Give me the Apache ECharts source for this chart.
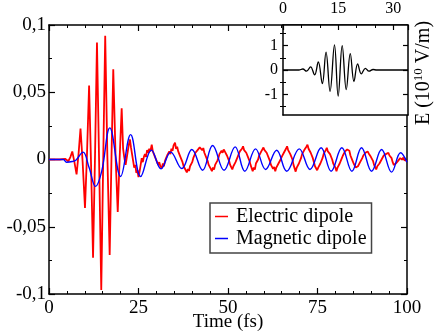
<!DOCTYPE html>
<html>
<head>
<meta charset="utf-8">
<script src="https://cdn.jsdelivr.net/npm/echarts@6/dist/echarts.min.js"></script>
<style>
  html, body { margin: 0; padding: 0; background: #fff; }
  #chart { width: 438px; height: 332px; }
</style>
</head>
<body>
<div id="chart"></div>
<script>
// main plot: time (fs), dipole signal
const xTicks = [0, 25, 50, 75, 100];
const yTicks = [-0.1, -0.05, 0, 0.05, 0.1];
const seriesNames = ["Electric dipole", "Magnetic dipole"];

const electric = [
  [0,0],[3,0],[4.5,0.0005],[5.4,-0.0013],[6.0,0.002],[6.5,0.006],[7.1,-0.002],[7.7,-0.011],
  [8.25,0.004],[8.8,0.023],[9.4,-0.002],[10.05,-0.036],[10.6,0.003],[11.2,0.055],[11.75,-0.004],
  [12.3,-0.073],[12.85,0.002],[13.4,0.087],[14.0,-0.002],[14.6,-0.097],[15.15,0.001],[15.7,0.092],
  [16.3,0.003],[16.95,-0.071],[17.45,0.001],[17.95,0.067],[18.6,0.002],[19.2,-0.039],[19.75,0.002],
  [20.3,0.038],[20.7,0.008],
  [21.0,0.002],[21.4,-0.004],[21.7,0.001],[22.0,0.006],[22.3,0.011],[22.6,0.015],[22.9,0.009],[23.2,0.004],[23.5,-0.001],
  [23.8,-0.006],[24.1,-0.004],[24.4,-0.01],[24.7,-0.008],[25.0,-0.013],[25.3,-0.009],[25.6,-0.004],[25.9,0.001],[26.2,-0.002],[26.5,0.002],
  [26.8,0.004],[27.1,0.002],[27.4,0.007],[27.7,0.005],[28.0,0.008],[28.3,0.006],[28.7,0.011],[29.0,0.006],[29.3,0.007],[29.6,0.002],[29.9,0.003],[30.2,-0.002],
  [30.5,-0.004],[30.8,-0.002],[31.1,-0.005],[31.5,-0.0065],[31.8,-0.003],[32.1,-0.005],[32.4,-0.001],[32.7,0.001],
  [33.0,0.003],[33.3,0.002],[33.6,0.006],[33.9,0.004],[34.2,0.008],[34.5,0.0065],[34.8,0.0105],[35.2,0.0125],[35.5,0.008],[35.8,0.0095],[36.1,0.006],[36.4,0.007],[36.7,0.002],[37.0,0.003],
  [37.3,-0.002],[37.6,-0.005],[37.9,-0.004],[38.2,-0.008],[38.5,-0.0096],[38.8,-0.007],[39.1,-0.0085],[39.4,-0.005],[39.7,-0.006],[40.0,-0.002],
  [40.3,0.001],[40.6,0.0005],[40.9,0.005],[41.2,0.004],[41.5,0.007],[41.8,0.006],[42.1,0.009],[42.5,0.010],[42.8,0.007],[43.1,0.0085],[43.4,0.005],[43.7,0.006],[44.0,0.001],
  [44.3,-0.001],[44.6,-0.004],[44.9,-0.003],[45.2,-0.007],[45.5,-0.0087],[45.8,-0.006],[46.1,-0.0075],[46.4,-0.004],[46.7,-0.005],[47.0,-0.001],
  [47.3,0.001],[47.6,0.004],[47.9,0.003],[48.2,0.0065],[48.5,0.005],[48.8,0.0075],[49.1,0.006],[49.4,0.0065],[49.7,0.003],[50.0,0.0035],[50.3,-0.001],
  [50.6,-0.004],[50.9,-0.003],[51.2,-0.0074],[51.5,-0.005],[51.8,-0.006],[52.1,-0.002],[52.4,-0.0025],
  [52.7,0.002],[53.0,0.001],[53.3,0.006],[53.6,0.005],[53.9,0.008],[54.2,0.0098],[54.5,0.007],[54.8,0.008],[55.1,0.005],[55.4,0.0055],[55.7,0.001],
  [56.0,-0.001],[56.3,-0.004],[56.6,-0.0035],[56.9,-0.0087],[57.2,-0.006],[57.5,-0.0075],[57.8,-0.003],[58.1,-0.004],[58.4,0.0],
  [58.7,0.003],[59.0,0.002],[59.3,0.006],[59.6,0.005],[59.9,0.0089],[60.2,0.007],[60.5,0.008],[60.8,0.005],[61.1,0.006],[61.4,0.001],
  [61.7,-0.001],[62.0,-0.004],[62.3,-0.003],[62.6,-0.007],[62.9,-0.0055],[63.2,-0.0087],[63.5,-0.006],[63.8,-0.007],[64.1,-0.003],[64.4,-0.004],[64.7,0.0],
  [65.0,0.002],[65.3,0.001],[65.6,0.005],[65.9,0.004],[66.2,0.008],[66.5,0.0098],[66.8,0.007],[67.1,0.008],[67.4,0.004],[67.7,0.0045],[68.0,0.0],
  [68.3,-0.004],[68.6,-0.003],[68.9,-0.009],[69.2,-0.006],[69.5,-0.007],[69.8,-0.003],[70.1,-0.0035],[70.4,0.001],
  [70.7,0.004],[71.0,0.003],[71.3,0.007],[71.6,0.006],[71.9,0.0095],[72.2,0.011],[72.5,0.008],[72.8,0.009],[73.1,0.005],[73.4,0.0055],[73.7,0.001],
  [74.0,-0.002],[74.3,-0.005],[74.6,-0.0045],[74.9,-0.008],[75.2,-0.006],[75.5,-0.007],[75.8,-0.003],[76.1,-0.0035],
  [76.4,0.001],[76.7,0.004],[77.0,0.003],[77.3,0.007],[77.6,0.0087],[77.9,0.006],[78.2,0.007],[78.5,0.004],[78.8,0.0045],[79.1,0.0],
  [79.4,-0.003],[79.7,-0.002],[80.0,-0.006],[80.3,-0.0087],[80.6,-0.006],[80.9,-0.007],[81.2,-0.003],[81.5,-0.0035],[81.8,0.001],
  [82.1,0.003],[82.4,0.0025],[82.7,0.006],[83.0,0.005],[83.3,0.0074],[83.6,0.006],[83.9,0.0065],[84.2,0.003],[84.5,0.0035],[84.8,-0.001],
  [85.1,-0.003],[85.4,-0.0025],[85.7,-0.006],[86.0,-0.0074],[86.3,-0.005],[86.6,-0.006],[86.9,-0.002],[87.2,-0.0025],[87.5,0.001],
  [87.8,0.003],[88.1,0.0025],[88.4,0.005],[88.7,0.004],[89.0,0.006],[89.3,0.0045],[89.6,0.005],[89.9,0.002],[90.2,0.0025],[90.5,-0.001],
  [90.8,-0.004],[91.1,-0.003],[91.4,-0.0074],[91.7,-0.005],[92.0,-0.006],[92.3,-0.003],[92.6,-0.0035],[92.9,0.0],
  [93.2,0.001],[93.5,0.003],[93.8,0.002],[94.1,0.004],[94.4,0.0035],[94.8,0.005],[95.1,0.003],[95.4,0.0037],[95.7,0.001],
  [96.0,-0.002],[96.3,-0.004],[96.6,-0.005],[96.9,-0.003],[97.2,-0.0035],[97.5,-0.001],[97.8,-0.0015],
  [98.1,0.001],[98.4,0.002],[98.7,0.0],[99.0,0.0015],[99.3,-0.0005],[99.6,0.0005],[100,-0.001]
];

const magnetic = [
  [0,0],[4,0],[4.9,-0.002],[6.5,-0.0015],[7.5,-0.0005],[9.5,0.0055],[11.2,-0.006],[13.0,-0.020],
  [14.7,-0.009],[17.0,0.0235],[20.0,-0.0126],[22.8,0.0185],[25.6,-0.0126],[28.6,0.007],[31.3,-0.007],
  [34.0,0.0055],[37.1,-0.0067],[39.9,0.0074],[42.9,-0.008],[45.7,0.0104],[48.9,-0.008],[52.0,0.0094],
  [54.7,-0.0087],[57.7,0.0079],[60.5,-0.0074],[63.6,0.0069],[66.4,-0.0087],[69.9,0.0079],[72.9,-0.0074],
  [76.0,0.0087],[78.8,-0.0087],[81.8,0.0087],[84.6,-0.0087],[87.3,0.0087],[90.1,-0.0087],[92.9,0.0074],
  [95.7,-0.0094],[98.2,0.005],[100,-0.002]
];

// inset: laser field, E (10^10 V/m)
const insetXTicks = [0, 15, 30];
const insetYTicks = [-1, 0, 1];
const insetYMinor = [-1.5, -0.5, 0.5, 1.5];
const field = [
  [0,0],[4.3,0],[5.4,0.04],[6.4,-0.05],[7.5,0.13],[8.6,-0.2],[9.6,0.33],[10.7,-0.56],[11.7,0.73],
  [12.8,-0.87],[14.0,1.03],[15.0,-1.07],[16.1,1.0],[17.2,-0.8],[18.3,0.67],[19.3,-0.47],[20.3,0.25],
  [21.3,-0.16],[22.4,0.07],[23.4,-0.05],[24.5,0.02],[25.5,0],[34,0]
];

const FONT = "Liberation Serif";
const black = "#000";

const chart = echarts.init(document.getElementById("chart"), null, { renderer: "canvas" });

const axisLine = { show: true, onZero: false, lineStyle: { color: black, width: 1.5 } };
const noSplit = { show: false };

chart.setOption({
  animation: false,
  backgroundColor: "#fff",
  grid: [
    { left: 49, top: 25, right: 31, bottom: 38, outerBoundsMode: "none" },
    { left: 283, top: 25, right: 30, bottom: 217, show: true, backgroundColor: "#fff",
      borderWidth: 0, z: 5, outerBoundsMode: "none" }
  ],
  legend: {
    data: seriesNames,
    orient: "vertical",
    left: 210, top: 203,
    icon: "rect",
    itemWidth: 13, itemHeight: 1.5, itemGap: 1,
    padding: [3, 5, 4, 5],
    borderColor: "#444", borderWidth: 1.5,
    backgroundColor: "#fff",
    textStyle: { fontFamily: FONT, fontSize: 20, color: black, lineHeight: 21, padding: [0, 0, 0, 3] }
  },
  xAxis: [
    {
      type: "value", gridIndex: 0, position: "bottom", min: 0, max: 100, interval: 25,
      axisLine, splitLine: noSplit,
      axisTick: { inside: true, length: 6, lineStyle: { color: black, width: 1.2 } },
      minorTick: { show: true, splitNumber: 5, length: 3, lineStyle: { color: black, width: 1 } },
      axisLabel: { fontFamily: FONT, fontSize: 19, color: black, margin: 5 },
      name: "Time (fs)", nameLocation: "middle", nameGap: 19, nameMoveOverlap: false,
      nameTextStyle: { fontFamily: FONT, fontSize: 19, color: black }
    },
    {
      type: "value", gridIndex: 0, position: "top", min: 0, max: 100, interval: 25,
      axisLine, splitLine: noSplit,
      axisTick: { inside: true, length: 6, lineStyle: { color: black, width: 1.2 } },
      minorTick: { show: true, splitNumber: 5, length: 3, lineStyle: { color: black, width: 1 } },
      axisLabel: { show: false }
    },
    {
      type: "value", gridIndex: 1, position: "top", min: 0, max: 34, interval: 15, z: 6,
      axisLine, splitLine: noSplit,
      axisTick: { inside: true, length: 5, lineStyle: { color: black, width: 1.2 } },
      minorTick: { show: true, splitNumber: 3, length: 3, lineStyle: { color: black, width: 1 } },
      axisLabel: { fontFamily: FONT, fontSize: 16, color: black, margin: 8,
        customValues: insetXTicks }
    },
    {
      type: "value", gridIndex: 1, position: "bottom", min: 0, max: 34, z: 6,
      axisLine, splitLine: noSplit, axisTick: { show: false }, axisLabel: { show: false }
    }
  ],
  yAxis: [
    {
      type: "value", gridIndex: 0, position: "left", min: -0.1, max: 0.1, interval: 0.05,
      axisLine, splitLine: noSplit,
      axisTick: { inside: true, length: 6, lineStyle: { color: black, width: 1.2 } },
      minorTick: { show: true, splitNumber: 2, length: 3, lineStyle: { color: black, width: 1 } },
      axisLabel: {
        fontFamily: FONT, fontSize: 19, color: black, margin: 3,
        formatter: (v) => (v === 0 ? "0" : String(+v.toFixed(3)).replace(".", ","))
      }
    },
    {
      type: "value", gridIndex: 0, position: "right", min: -0.1, max: 0.1, interval: 0.05,
      axisLine, splitLine: noSplit,
      axisTick: { inside: true, length: 6, lineStyle: { color: black, width: 1.2 } },
      minorTick: { show: true, splitNumber: 2, length: 3, lineStyle: { color: black, width: 1 } },
      axisLabel: { show: false }
    },
    {
      type: "value", gridIndex: 1, position: "left", min: -1.84, max: 1.84, z: 6,
      axisLine, splitLine: noSplit,
      axisTick: { inside: true, length: 5, customValues: insetYTicks, lineStyle: { color: black, width: 1.2 } },
      axisLabel: { fontFamily: FONT, fontSize: 16, color: black, margin: 5, customValues: insetYTicks }
    },
    {
      type: "value", gridIndex: 1, position: "right", min: -1.84, max: 1.84, z: 6,
      axisLine, splitLine: noSplit,
      axisTick: { inside: true, length: 5, customValues: insetYTicks, lineStyle: { color: black, width: 1.2 } },
      axisLabel: { show: false },
      name: "E (10{sup|10} V/m)", nameLocation: "middle", nameRotate: 90, nameGap: 4,
      nameTextStyle: {
        fontFamily: FONT, fontSize: 20, color: black, lineHeight: 24, padding: [0, 6, 0, 0],
        rich: { sup: { fontFamily: FONT, fontSize: 13, color: black, verticalAlign: "top", lineHeight: 24 } }
      }
    },
    {
      type: "value", gridIndex: 1, position: "left", min: -1.84, max: 1.84, z: 6,
      axisLine: { show: false }, splitLine: noSplit, axisLabel: { show: false },
      axisTick: { inside: true, length: 3, customValues: insetYMinor, lineStyle: { color: black, width: 1 } }
    },
    {
      type: "value", gridIndex: 1, position: "right", min: -1.84, max: 1.84, z: 6,
      axisLine: { show: false }, splitLine: noSplit, axisLabel: { show: false },
      axisTick: { inside: true, length: 3, customValues: insetYMinor, lineStyle: { color: black, width: 1 } }
    }
  ],
  series: [
    {
      name: seriesNames[0], type: "line", xAxisIndex: 0, yAxisIndex: 0, data: electric,
      showSymbol: false, symbol: "none", color: "#ff0000",
      lineStyle: { color: "#ff0000", width: 1.8 }
    },
    {
      name: seriesNames[1], type: "line", xAxisIndex: 0, yAxisIndex: 0, data: magnetic,
      showSymbol: false, symbol: "none", smooth: 0.4, color: "#0000ff",
      lineStyle: { color: "#0000ff", width: 1.4 }
    },
    {
      name: "E", type: "line", xAxisIndex: 2, yAxisIndex: 2, data: field, z: 7,
      showSymbol: false, symbol: "none", smooth: 0.4,
      lineStyle: { color: black, width: 1.3 }
    }
  ]
});
</script>
</body>
</html>
